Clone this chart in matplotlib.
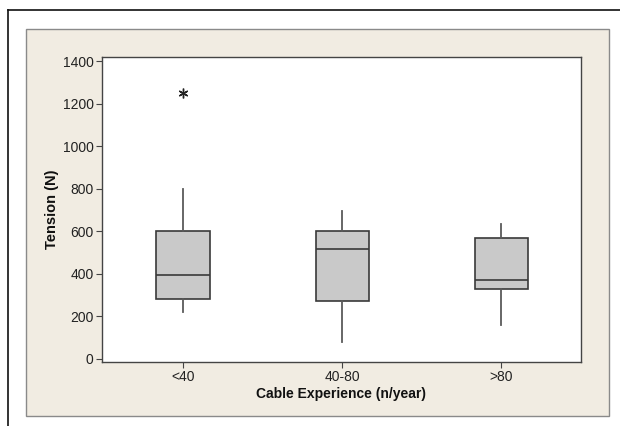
import matplotlib
matplotlib.use("Agg")
import matplotlib.pyplot as plt
from matplotlib.patches import Rectangle
from matplotlib.lines import Line2D

plt.rcParams['font.family'] = ['Liberation Sans', 'DejaVu Sans']

categories = ["<40", "40-80", ">80"]
whisker_low = [220, 80, 157]
q1 = [282, 272, 328]
median = [396, 516, 368]
q3 = [600, 600, 569]
whisker_high = [800, 695, 634]
outliers = [[1250], [], []]
yticks = [0, 200, 400, 600, 800, 1000, 1200, 1400]

W, H = 620, 426
fig = plt.figure(figsize=(W / 100, H / 100), dpi=100)
fig.patch.set_facecolor("white")

# outer black frame (only top and left visible)
fig.add_artist(Line2D([8 / W, 1.0], [1 - 10 / H, 1 - 10 / H], transform=fig.transFigure,
                      color="#111111", lw=1.2))
fig.add_artist(Line2D([8 / W, 8 / W], [0, 1 - 10 / H], transform=fig.transFigure,
                      color="#111111", lw=1.2))

# beige panel
fig.add_artist(Rectangle((25.5 / W, 1 - 415.5 / H), (609 - 25.5) / W, (415.5 - 28.5) / H,
                         transform=fig.transFigure, facecolor="#F1ECE2",
                         edgecolor="#8a8a8a", lw=1.0, zorder=0))

ax = fig.add_axes([102 / W, 1 - 362 / H, (581 - 102) / W, (362 - 57) / H])
ax.set_facecolor("white")

stats = []
for i, c in enumerate(categories):
    stats.append(dict(label=c, whislo=whisker_low[i], q1=q1[i], med=median[i],
                      q3=q3[i], whishi=whisker_high[i], fliers=outliers[i]))

lc = "#3a3a3a"
ax.bxp(stats, positions=[1, 2, 3], widths=0.336, patch_artist=True, showcaps=False,
       boxprops=dict(facecolor="#C9C9C9", edgecolor=lc, lw=1.2),
       medianprops=dict(color=lc, lw=1.2),
       whiskerprops=dict(color="#5a5a5a", lw=1.3),
       flierprops=dict(marker=(6, 2, 0), markersize=7, markeredgecolor="#222222",
                       markeredgewidth=1.0, linestyle="none"))

ax.set_xlim(0.49, 3.5)
ax.set_ylim(-16, 1421)
ax.set_yticks(yticks)
ax.set_xticks([1, 2, 3])
ax.set_xticklabels(categories)
for s in ax.spines.values():
    s.set_color("#444444")
    s.set_linewidth(1.0)
ax.tick_params(axis="both", direction="out", length=4, width=0.8, color="#444444",
               labelsize=10, labelcolor="#222222", pad=2)

ax.set_ylabel("Tension (N)", fontsize=10.5, fontweight="bold", color="#111111", labelpad=3)
ax.set_xlabel("Cable Experience (n/year)", fontsize=10, fontweight="bold", color="#111111",
              labelpad=2)

fig.savefig("out.png", dpi=100)
